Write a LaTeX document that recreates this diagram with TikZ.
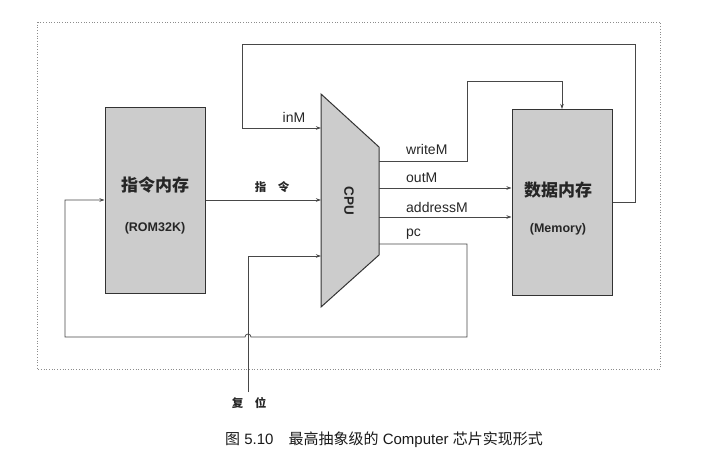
\documentclass[tikz,border=0pt]{standalone}
\usepackage{fontspec}
\setmainfont{Liberation Sans}
\newfontfamily\cjk{Noto Sans CJK SC}
\usetikzlibrary{arrows.meta,calc,positioning}

\begin{document}
\begin{tikzpicture}[x=1pt,y=-1pt,>={Stealth[length=5pt,width=3.5pt]},
  line/.style={draw=black!72,line width=0.8pt},
  membox/.style={draw=black!80,line width=1pt,fill=black!20,minimum width=100pt,minimum height=186pt,inner sep=0pt},
  lbl/.style={font=\fontsize{14}{16}\selectfont,text=black!85,inner sep=0pt}]
  \useasboundingbox (0,0) rectangle (709,471);
  \draw[black!45,dotted,line width=0.7pt] (37,22) rectangle (660,369);

  % the three blocks
  \node[membox] (rom) at (155,200) {};
  \node[font=\cjk\bfseries\fontsize{17}{20}\selectfont,text=black!85] (romtitle) at (155,185) {指令内存};
  \node[font=\bfseries\fontsize{12.5}{15}\selectfont,text=black!85] (romname) at (155,228) {(ROM32K)};
  \node[membox] (mem) at (562,202.5) {};
  \node[font=\cjk\bfseries\fontsize{17}{20}\selectfont,text=black!85] (memtitle) at (558,190) {数据内存};
  \node[font=\bfseries\fontsize{12.5}{15}\selectfont,text=black!85] (memname) at (558,229) {(Memory)};
  \draw[draw=black!80,line width=1pt,fill=black!20] (321,94) coordinate (cpuNW) -- (379,147) coordinate (cpuNE)
    -- (379,255) coordinate (cpuSE) -- (321,307) coordinate (cpuSW) -- cycle;
  \node[font=\bfseries\fontsize{13.5}{15}\selectfont,text=black!85,rotate=-90] (cpu) at (349,201) {CPU};

  \coordinate (inMport) at (321,128);
  \coordinate (resetport) at (321,256);
  \coordinate (writeMport) at (379,161);
  \coordinate (outMport) at (379,188);
  \coordinate (addrport) at (379,217);
  \coordinate (pcport) at (379,244);
  \coordinate (reset) at (248,392);

  % wires
  \draw[line,->] (rom.east) -- (rom.east -| cpuNW);
  \draw[line,->] (mem.east) -- ++(23,0) |- (242,44) |- (inMport);
  \draw[line,->] (writeMport) -- (467,161) |- (mem.north |- 0,81) -- (mem.north);
  \draw[line,->] (outMport) -- (outMport -| mem.west);
  \draw[line,->] (addrport) -- (addrport -| mem.west);
  \draw[line,->] (pcport) -- (467,244) -- (467,337) -- (251,337)
    arc[start angle=0,end angle=-180,radius=3] -- (65,337) |- (rom.west);
  \draw[line,->] (reset) |- (resetport);

  \node[lbl] (inMlbl) at (294,117) {inM};
  \node[font=\cjk\bfseries\fontsize{11.5}{14}\selectfont,text=black!85] (instrlbl) at (272,187) {指\quad 令};
  \node[lbl,anchor=west] (writeMlbl) at (406,149) {writeM};
  \node[lbl,anchor=west] (outMlbl) at (406,178) {outM};
  \node[lbl,anchor=west] (addrlbl) at (406,207) {addressM};
  \node[lbl,anchor=west] (pclbl) at (406,234) {pc};
  \node[font=\cjk\bfseries\fontsize{11.5}{14}\selectfont,text=black!85] (resetlbl) at (249,403) {复\quad 位};

  \node[font=\fontsize{15}{18}\selectfont,text=black!90] (caption) at (384,440)
    {{\cjk 图} 5.10\quad{\cjk 最高抽象级的} Computer {\cjk 芯片实现形式}};
\end{tikzpicture}
\end{document}
